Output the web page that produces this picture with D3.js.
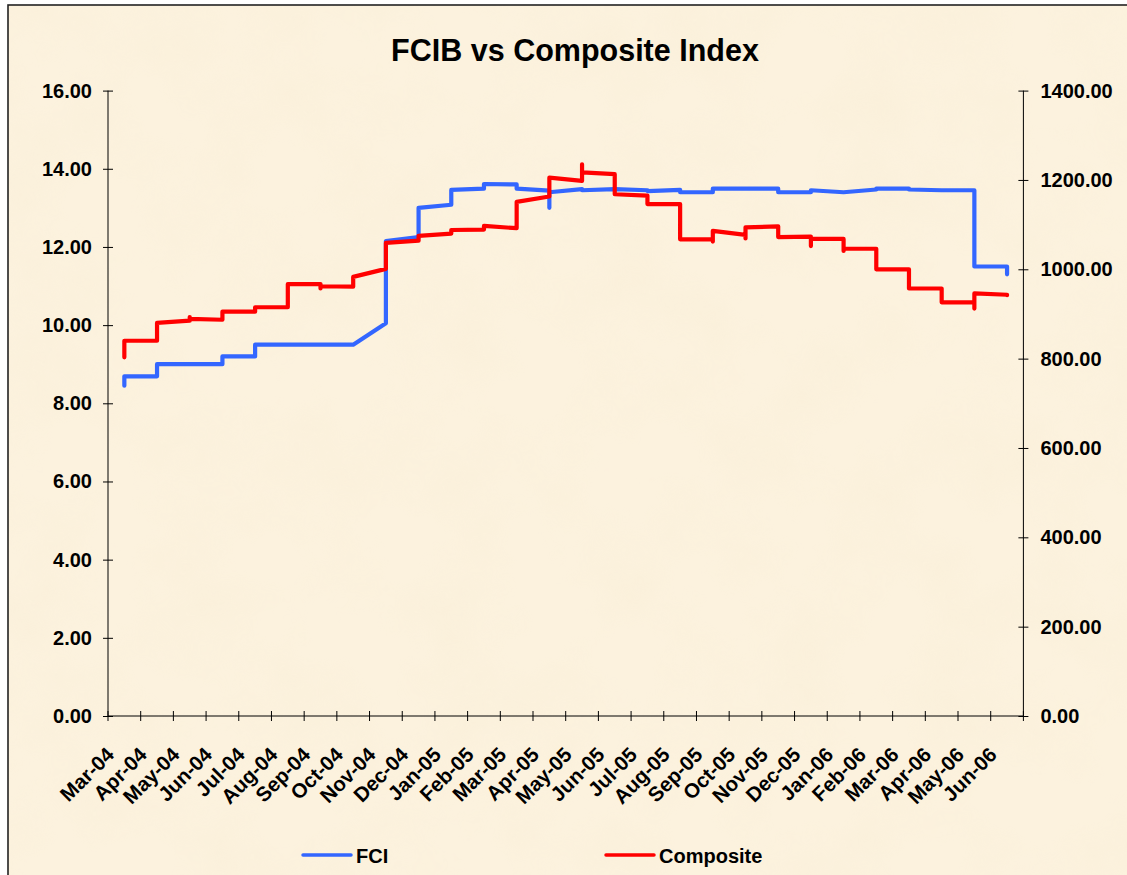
<!DOCTYPE html>
<html>
<head>
<meta charset="utf-8">
<script src="https://cdn.jsdelivr.net/npm/d3@7"></script>
<style>
  html, body { margin: 0; padding: 0; background: #fff; }
  svg { display: block; }
</style>
</head>
<body>
<svg id="chart" width="1127" height="875"></svg>
<script>
// monthly categories of the date axis
const months = [
  "Mar-04", "Apr-04", "May-04", "Jun-04", "Jul-04", "Aug-04", "Sep-04",
  "Oct-04", "Nov-04", "Dec-04", "Jan-05", "Feb-05", "Mar-05", "Apr-05",
  "May-05", "Jun-05", "Jul-05", "Aug-05", "Sep-05", "Oct-05", "Nov-05",
  "Dec-05", "Jan-06", "Feb-06", "Mar-06", "Apr-06", "May-06", "Jun-06",
];

// values falling in each month (they collapse onto one x position)
const fciValues = [
  [8.45, 8.69], [8.69, 9.0], [9.0], [9.0, 9.2], [9.2, 9.5], [9.5], [9.5],
  [9.5], [10.05, 12.15], [12.25, 13.0], [13.08, 13.46], [13.49, 13.61],
  [13.6, 13.49], [13.44, 13.0, 13.4], [13.48, 13.45], [13.48], [13.45, 13.43],
  [13.46, 13.4], [13.4, 13.49], [13.49], [13.49, 13.4], [13.4, 13.45],
  [13.4], [13.47, 13.49], [13.49, 13.47], [13.45], [13.45, 11.97, 11.5],
  [11.5, 11.3],
];

const compositeValues = [
  [803, 840], [840, 880], [885, 893, 889], [887, 905], [905, 915],
  [915, 967], [967, 957, 962], [961, 983], [1001, 1059], [1064, 1075],
  [1080, 1088], [1089, 1097], [1092, 1151], [1163, 1205],
  [1198, 1235, 1217], [1213, 1168], [1165, 1146], [1146, 1067],
  [1067, 1062, 1086], [1077, 1069, 1094], [1096, 1072], [1073, 1052, 1068],
  [1068, 1041, 1046], [1046, 1000], [1000, 957], [957, 926],
  [926, 912, 946], [943, 942],
];

const leftTicks = [0, 2, 4, 6, 8, 10, 12, 14, 16];
const rightTicks = [0, 200, 400, 600, 800, 1000, 1200, 1400];

const FONT = "'Liberation Sans', Arial, Helvetica, sans-serif";
const BLUE = "#3366ff";
const RED = "#ff0000";

const plot = { left: 108, right: 1023.4, top: 90.6, bottom: 716 };

const svg = d3.select("#chart");

// parchment background
const defs = svg.append("defs");
const filt = defs.append("filter").attr("id", "paper")
  .attr("x", 0).attr("y", 0).attr("width", "100%").attr("height", "100%");
filt.append("feTurbulence").attr("type", "fractalNoise")
  .attr("baseFrequency", 0.012).attr("numOctaves", 4).attr("seed", 7);
filt.append("feColorMatrix").attr("type", "matrix")
  .attr("values", "0 0 0 0 0.93  0 0 0 0 0.84  0 0 0 0 0.66  1.4 0 0 0 -0.55");

svg.append("rect").attr("x", 8).attr("y", 5)
  .attr("width", 1300).attr("height", 1000)
  .attr("fill", "#fcf2de");
svg.append("rect").attr("x", 8).attr("y", 5)
  .attr("width", 1300).attr("height", 1000)
  .attr("filter", "url(#paper)").attr("opacity", 0.45);
svg.append("rect").attr("x", 8).attr("y", 5)
  .attr("width", 1300).attr("height", 1000)
  .attr("fill", "none").attr("stroke", "#222").attr("stroke-width", 1.6);

// scales
const x = d3.scaleBand().domain(months).range([plot.left, plot.right]).padding(0);
const yL = d3.scaleLinear().domain([0, 16]).range([plot.bottom, plot.top]);
const yR = d3.scaleLinear().domain([0, 1400]).range([plot.bottom, plot.top]);
const cx = (m) => x(m) + x.bandwidth() / 2;

// title
svg.append("text")
  .attr("x", 575).attr("y", 61)
  .attr("text-anchor", "middle")
  .attr("font-family", FONT).attr("font-weight", "bold").attr("font-size", 30.5)
  .attr("fill", "#000")
  .text("FCIB vs Composite Index");

// left axis
const gL = svg.append("g").attr("transform", `translate(${plot.left},0)`)
  .call(d3.axisLeft(yL).tickValues(leftTicks).tickSize(5).tickPadding(11)
    .tickFormat(d3.format(".2f")));
gL.selectAll(".tick line").attr("x1", -5).attr("x2", 5);

// right axis
const gR = svg.append("g").attr("transform", `translate(${plot.right},0)`)
  .call(d3.axisRight(yR).tickValues(rightTicks).tickSize(5).tickPadding(12)
    .tickFormat(d3.format(".2f")));
gR.selectAll(".tick line").attr("x1", -5).attr("x2", 5);

[gL, gR].forEach((g) => {
  g.select(".domain").remove();
  g.selectAll("text").attr("font-family", FONT).attr("font-weight", "bold")
    .attr("font-size", 20).attr("fill", "#000");
  g.selectAll(".tick line").attr("stroke", "#000");
});
svg.append("line").attr("x1", plot.left).attr("x2", plot.left)
  .attr("y1", plot.top).attr("y2", plot.bottom).attr("stroke", "#000");
svg.append("line").attr("x1", plot.right).attr("x2", plot.right)
  .attr("y1", plot.top).attr("y2", plot.bottom).attr("stroke", "#000");

// bottom axis: ticks at month boundaries, labels under each month
const gX = svg.append("g");
gX.append("line").attr("x1", plot.left).attr("x2", plot.right)
  .attr("y1", plot.bottom).attr("y2", plot.bottom).attr("stroke", "#000");
const bounds = months.map((m) => x(m)).concat([x.range()[1]]);
gX.selectAll("line.tk").data(bounds).join("line").attr("class", "tk")
  .attr("x1", (d) => d).attr("x2", (d) => d)
  .attr("y1", plot.bottom - 5).attr("y2", plot.bottom + 5)
  .attr("stroke", "#000");
gX.selectAll("text").data(months).join("text")
  .attr("transform", (d) => `translate(${cx(d) - 9},${plot.bottom + 40}) rotate(-45)`)
  .attr("text-anchor", "end")
  .attr("font-family", FONT).attr("font-weight", "bold").attr("font-size", 20.5)
  .attr("fill", "#000")
  .text((d) => d);

// series
function flatten(vals) {
  const pts = [];
  vals.forEach((arr, i) => arr.forEach((v) => pts.push({ m: months[i], v })));
  return pts;
}

const lineL = d3.line().x((d) => cx(d.m)).y((d) => yL(d.v));
const lineR = d3.line().x((d) => cx(d.m)).y((d) => yR(d.v));

svg.append("path").datum(flatten(fciValues))
  .attr("d", lineL).attr("fill", "none").attr("stroke", BLUE)
  .attr("stroke-width", 4.2).attr("stroke-linejoin", "round").attr("stroke-linecap", "round");

svg.append("path").datum(flatten(compositeValues))
  .attr("d", lineR).attr("fill", "none").attr("stroke", RED)
  .attr("stroke-width", 4.2).attr("stroke-linejoin", "round").attr("stroke-linecap", "round");

// legend
const legend = [
  { name: "FCI", color: BLUE, x: 303 },
  { name: "Composite", color: RED, x: 606 },
];
const lg = svg.append("g").selectAll("g").data(legend).join("g")
  .attr("transform", (d) => `translate(${d.x},855)`);
lg.append("line").attr("x1", 0).attr("x2", 48).attr("y1", 0).attr("y2", 0)
  .attr("stroke", (d) => d.color).attr("stroke-width", 3.5).attr("stroke-linecap", "round");
lg.append("text").attr("x", 53).attr("y", 7.5)
  .attr("font-family", FONT).attr("font-weight", "bold").attr("font-size", 20)
  .attr("fill", "#000").text((d) => d.name);
</script>
</body>
</html>
